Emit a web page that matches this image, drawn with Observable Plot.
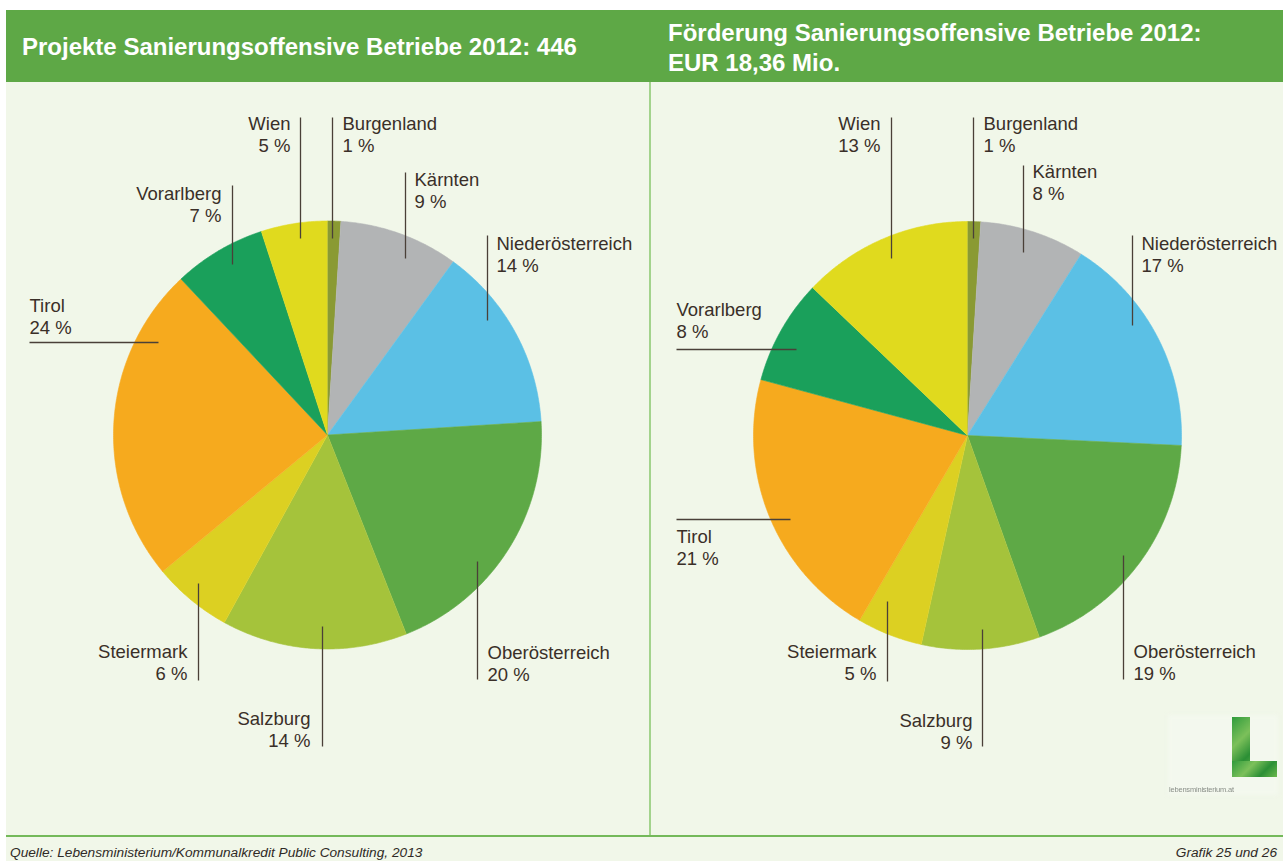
<!DOCTYPE html>
<html><head><meta charset="utf-8">
<script src="https://cdn.jsdelivr.net/npm/d3@7"></script>
<script src="https://cdn.jsdelivr.net/npm/@observablehq/plot@0.6"></script>
<style>
html,body{margin:0;padding:0}
body{width:1283px;height:861px;position:relative;background:#fff;font-family:"Liberation Sans",Arial,sans-serif;overflow:hidden}
.abs{position:absolute}
#panel{left:6px;top:82px;width:1277px;height:779px;background:#f1f7e9}
#header{left:6px;top:10px;width:1277px;height:72px;background:#5ea846}
#divider{left:649px;top:82px;width:2px;height:754px;background:#a3d38c}
#bottomline{left:6px;top:835px;width:1277px;height:2px;background:#74b95a}
.title{color:#fff;font-weight:bold;font-size:24px;line-height:30px;white-space:nowrap}
#t1{left:22px;top:32px}
#t2{left:668px;top:18px}
.foot{font-style:italic;font-size:13.7px;color:#2f2a26;top:845px;white-space:nowrap}
#f1{left:10px}
#f2{right:6px}
#logobox{left:1168px;top:715px;width:110px;height:80px;background:#f3f8ee;filter:blur(2px)}
.lbar{background:linear-gradient(135deg,#2f9b3c,#7cc05a 40%,#2b8f35 70%,#6bb84c);filter:blur(0.6px)}
#l1{left:1232px;top:717px;width:18px;height:60px}
#l2{left:1232px;top:761px;width:45px;height:16px}
#ltext{left:1169px;top:785px;font-size:7.5px;color:#8a8f88;filter:blur(0.5px);letter-spacing:-0.2px}
#left{left:6px;top:82px}
#right{left:651px;top:82px}
</style></head><body>
<div class="abs" id="panel"></div>
<div class="abs" id="header"></div>
<div class="abs" id="divider"></div>
<div class="abs" id="bottomline"></div>
<div class="abs title" id="t1"></div>
<div class="abs title" id="t2"></div>
<div class="abs foot" id="f1"></div>
<div class="abs foot" id="f2"></div>
<div class="abs" id="logobox"></div>
<div class="abs lbar" id="l1"></div>
<div class="abs lbar" id="l2"></div>
<div class="abs" id="ltext">lebensministerium.at</div>
<div class="abs" id="left"></div>
<div class="abs" id="right"></div>
<script>
// ---------- data ----------
const regions = ["Burgenland","Kärnten","Niederösterreich","Oberösterreich","Salzburg","Steiermark","Tirol","Vorarlberg","Wien"];
const projekteShare = [1, 9, 14, 20, 14, 6, 24, 7, 5];
const foerderungShare = [1, 8, 17, 19, 9, 5, 21, 8, 13];
const regionColors = ["#8a9a33","#b2b4b5","#5bc0e5","#5ea946","#a5c33b","#dcd022","#f6aa1e","#1aa05b","#e0da1e"];
const title1 = "Projekte Sanierungsoffensive Betriebe 2012: 446";
const title2 = ["Förderung Sanierungsoffensive Betriebe 2012:", "EUR 18,36 Mio."];
const sourceNote = "Quelle: Lebensministerium/Kommunalkredit Public Consulting, 2013";
const graphicNote = "Grafik 25 und 26";

// ---------- layout (page pixels: label text anchor + leader line) ----------
const leftLayout = [
  {tx:342, ty:115, anchor:"start", l:[332,117,332,238]},
  {tx:414, ty:171, anchor:"start", l:[405,172,405,258]},
  {tx:496, ty:235, anchor:"start", l:[487,235,487,320]},
  {tx:487, ty:644, anchor:"start", l:[477,561,477,679]},
  {tx:310, ty:710, anchor:"end",   l:[322,626,322,746]},
  {tx:187, ty:643, anchor:"end",   l:[198,583,198,680]},
  {tx:29,  ty:297, anchor:"start", l:[29,342,158,342]},
  {tx:221, ty:185, anchor:"end",   l:[232,185,232,264]},
  {tx:290, ty:115, anchor:"end",   l:[300,117,300,238]}
];
const rightLayout = [
  {tx:983,  ty:115, anchor:"start", l:[973,117,973,238]},
  {tx:1032, ty:163, anchor:"start", l:[1023,165,1023,252]},
  {tx:1141, ty:235, anchor:"start", l:[1132,235,1132,325]},
  {tx:1133, ty:643, anchor:"start", l:[1123,555,1123,679]},
  {tx:972,  ty:712, anchor:"end",   l:[982,629,982,746]},
  {tx:876,  ty:643, anchor:"end",   l:[887,601,887,681]},
  {tx:676,  ty:528, anchor:"start", l:[676,519,790,519]},
  {tx:676,  ty:301, anchor:"start", l:[676,349,796,349]},
  {tx:880,  ty:115, anchor:"end",   l:[891,117,891,258]}
];

document.getElementById("t1").textContent = title1;
document.getElementById("t2").innerHTML = title2.join("<br>");
document.getElementById("f1").textContent = sourceNote;
document.getElementById("f2").textContent = graphicNote;

const R = 214;
function piePlot(values, layout, opt) {
  const {width, height, left, top, pcx, pcy} = opt;
  const cx = pcx - left, cy = pcy - top;
  const total = d3.sum(values);
  const pts = [];
  let acc = 0;
  regions.forEach((name, i) => {
    const a0 = acc / total * 2 * Math.PI;
    acc += values[i];
    const a1 = acc / total * 2 * Math.PI;
    const n = Math.max(2, Math.ceil((a1 - a0) / (Math.PI / 360)));
    pts.push({name, x: 0, y: 0});
    for (let k = 0; k <= n; k++) {
      const a = a0 + (a1 - a0) * k / n;
      pts.push({name, x: Math.sin(a), y: Math.cos(a)});
    }
  });
  const u = px => (px - pcx) / R, v = py => (pcy - py) / R;
  const labels = regions.map((name, i) => {
    const L = layout[i];
    return {name, pct: values[i], anchor: L.anchor, tx: u(L.tx), ty: v(L.ty),
      x1: u(L.l[0]), y1: v(L.l[1]), x2: u(L.l[2]), y2: v(L.l[3])};
  });
  const txt = d => `${d.name}\n${d.pct} %`;
  const common = {x: "tx", y: "ty", text: txt, lineAnchor: "top", fontSize: 18.5, lineHeight: 1.14, fill: "#3a2f28"};
  return Plot.plot({
    width, height, margin: 0,
    x: {domain: [-cx / R, (width - cx) / R], range: [0, width], axis: null},
    y: {domain: [-(height - cy) / R, cy / R], range: [height, 0], axis: null},
    color: {domain: regions, range: regionColors},
    style: {background: "transparent", fontFamily: "'Liberation Sans', Arial, sans-serif", overflow: "visible"},
    marks: [
      Plot.line(pts, {x: "x", y: "y", z: "name", fill: "name", stroke: "name", strokeWidth: 0.6, curve: "linear"}),
      Plot.link(labels, {x1: "x1", y1: "y1", x2: "x2", y2: "y2", stroke: "#4a4038", strokeWidth: 1.3}),
      Plot.text(labels.filter(d => d.anchor === "start"), {...common, textAnchor: "start"}),
      Plot.text(labels.filter(d => d.anchor === "end"), {...common, textAnchor: "end"})
    ]
  });
}

document.getElementById("left").append(piePlot(projekteShare, leftLayout,
  {width: 643, height: 754, left: 6, top: 82, pcx: 327, pcy: 434.5}));
document.getElementById("right").append(piePlot(foerderungShare, rightLayout,
  {width: 632, height: 754, left: 651, top: 82, pcx: 967, pcy: 435}));
</script>
</body></html>
